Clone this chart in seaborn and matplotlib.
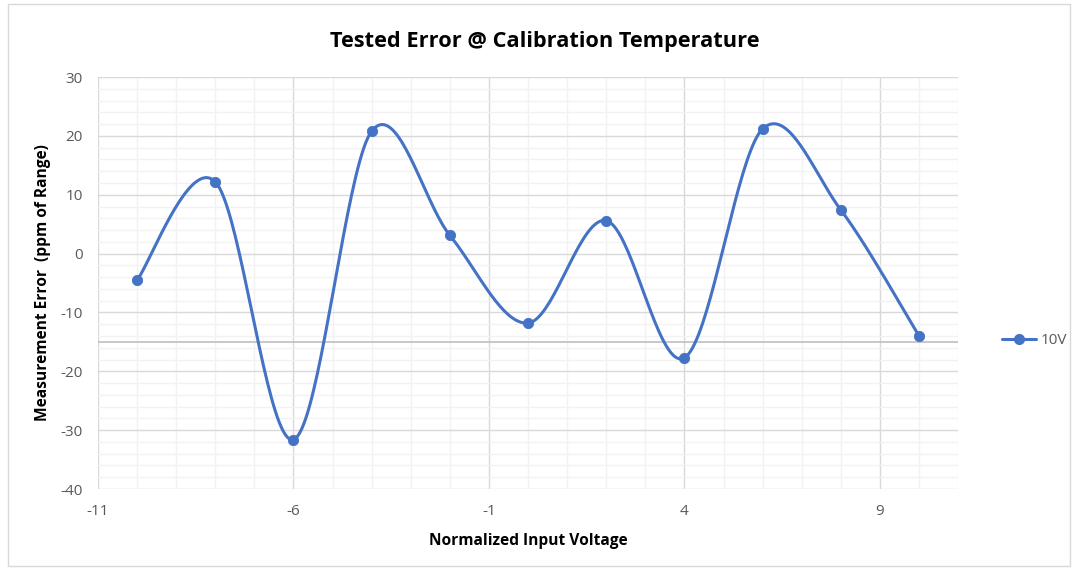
import numpy as np
import pandas as pd
import matplotlib
matplotlib.use("Agg")
import matplotlib.pyplot as plt
import seaborn as sns
from matplotlib.ticker import MultipleLocator
from matplotlib.patches import Rectangle

x_vals = [-10, -8, -6, -4, -2, 0, 2, 4, 6, 8, 10]
y_vals = [-4.5, 12.2, -31.6, 20.8, 3.1, -11.8, 5.6, -17.7, 21.2, 7.4, -14.0]
series_name = "10V"
x_ticks = [-11, -6, -1, 4, 9]

sns.set_theme(style="white")
plt.rcParams['font.family'] = ['Open Sans', 'DejaVu Sans']
plt.rcParams['axes.unicode_minus'] = False

df = pd.DataFrame({"x": x_vals, "y": y_vals})

fig = plt.figure(figsize=(10.73, 5.71), dpi=100)
ax = fig.add_axes([0.0913, 0.1436, 0.8017, 0.7215])

# Excel-like smoothed curve (Bezier through the data points)
def smooth(xs, ys, n=40):
    P = np.column_stack([xs, ys]).astype(float)
    out = []
    for i in range(len(P) - 1):
        p0 = P[i - 1] if i > 0 else P[i]
        p1 = P[i]
        p2 = P[i + 1]
        p3 = P[i + 2] if i + 2 < len(P) else P[i + 1]
        c1 = p1 + (p2 - p0) / 6.0
        c2 = p2 - (p3 - p1) / 6.0
        t = np.linspace(0, 1, n)[:, None]
        seg = ((1 - t) ** 3) * p1 + 3 * ((1 - t) ** 2) * t * c1 + 3 * (1 - t) * t ** 2 * c2 + t ** 3 * p2
        out.append(seg if i == 0 else seg[1:])
    return np.vstack(out)

curve = smooth(df["x"].values, df["y"].values)
color = "#4472C4"
ax.plot(curve[:, 0], curve[:, 1], color=color, lw=2.2, zorder=3)
sns.scatterplot(data=df, x="x", y="y", ax=ax, color=color, s=55, edgecolor=color, zorder=4, legend=False)
ax.plot([], [], color=color, lw=2.2, marker="o", markersize=7, label=series_name)

ax.set_xlim(-11, 11)
ax.set_ylim(-40, 30)
ax.set_xticks(x_ticks)
ax.xaxis.set_minor_locator(MultipleLocator(1))
ax.yaxis.set_major_locator(MultipleLocator(10))
ax.yaxis.set_minor_locator(MultipleLocator(2))
ax.grid(which="major", color="#D9D9D9", lw=1.0)
ax.grid(which="minor", color="#F2F2F2", lw=1.0)
ax.set_axisbelow(True)
ax.axhline(-15, color="#BFBFBF", lw=1.2, zorder=2)
for s in ax.spines.values():
    s.set_visible(False)
ax.tick_params(axis="both", which="both", length=0, labelsize=11, labelcolor="#595959")
ax.tick_params(axis="x", pad=11)
ax.tick_params(axis="y", pad=11)

ax.set_xlabel("Normalized Input Voltage", fontsize=11.2, fontweight="bold", color="black", labelpad=10)
ax.set_ylabel("Measurement Error  (ppm of Range)", fontsize=11.2, fontweight="bold", color="black", labelpad=7)
fig.text(0.508, 0.928, "Tested Error @ Calibration Temperature", ha="center", va="center",
         fontsize=15.7, fontweight="bold", color="black")

leg = ax.legend(loc="center left", bbox_to_anchor=(1.035, 0.36), frameon=False, fontsize=11,
                handlelength=2.2, handletextpad=0.3)
for t in leg.get_texts():
    t.set_color("#595959")

fig.patches.append(Rectangle((0.007, 0.008), 0.99, 0.985, transform=fig.transFigure,
                             fill=False, edgecolor="#D9D9D9", lw=1))

fig.savefig("out.png", dpi=100)
